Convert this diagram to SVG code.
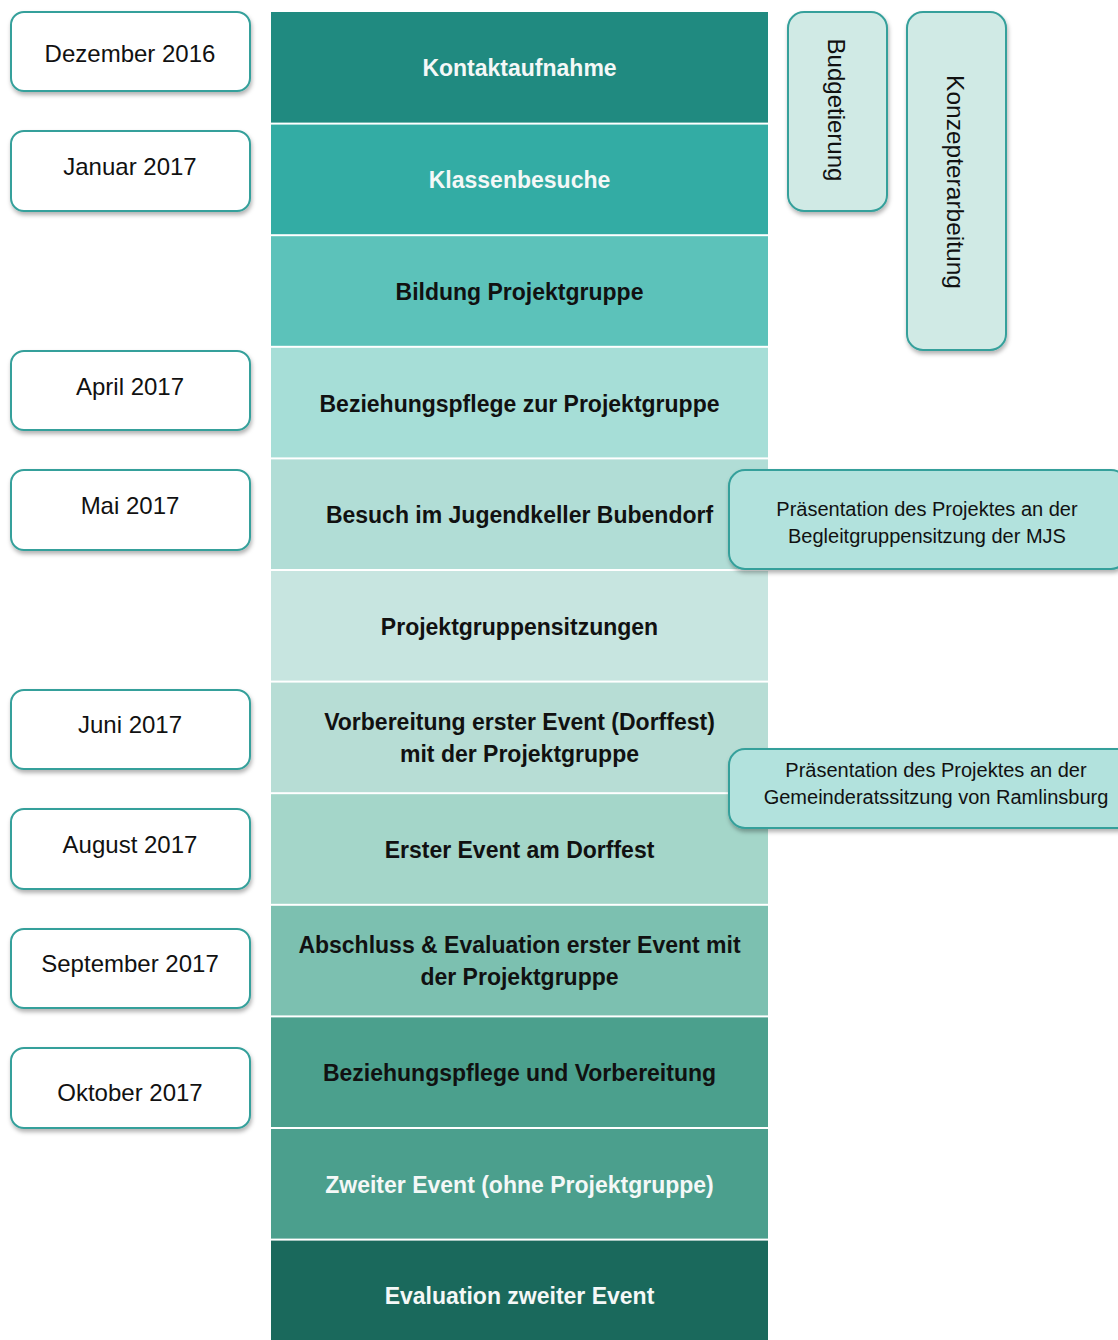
<svg xmlns="http://www.w3.org/2000/svg" width="1118" height="1340" viewBox="0 0 1118 1340">
<defs>
<filter id="sh" x="-10%" y="-10%" width="130%" height="140%">
<feDropShadow dx="1" dy="3" stdDeviation="2" flood-color="#000" flood-opacity="0.3"/>
</filter>
<style>
.date rect{fill:#fff;stroke:#35a09b;stroke-width:2;filter:url(#sh)}
.date text{font-family:"Liberation Sans",Arial,sans-serif;font-size:24px;fill:#111;text-anchor:middle;dominant-baseline:central}
.band text{font-family:"Liberation Sans",Arial,sans-serif;font-size:23px;font-weight:bold;text-anchor:middle;dominant-baseline:central;fill:#111}
.band text.w{fill:#f4f8f7}
.side rect{stroke:#35a09b;stroke-width:2;filter:url(#sh)}
.side text{font-family:"Liberation Sans",Arial,sans-serif;fill:#111;text-anchor:middle;dominant-baseline:central}
</style>
</defs>
<rect width="1118" height="1340" fill="#fff"/>

<g id="bands">
<g id="b1" class="band"><rect x="271" y="12" width="497" height="110.6" fill="#208a80"/><text class="w" x="519.5" y="68">Kontaktaufnahme</text></g>
<g id="b2" class="band"><rect x="271" y="124.6" width="497" height="109.6" fill="#33aca4"/><text class="w" x="519.5" y="180">Klassenbesuche</text></g>
<g id="b3" class="band"><rect x="271" y="236.2" width="497" height="109.6" fill="#5cc2ba"/><text x="519.5" y="292">Bildung Projektgruppe</text></g>
<g id="b4" class="band"><rect x="271" y="347.8" width="497" height="109.6" fill="#a6ded7"/><text x="519.5" y="404">Beziehungspflege zur Projektgruppe</text></g>
<g id="b5" class="band"><rect x="271" y="459.4" width="497" height="109.6" fill="#b1ddd6"/><text x="519.5" y="515">Besuch im Jugendkeller Bubendorf</text></g>
<g id="b6" class="band"><rect x="271" y="571" width="497" height="109.6" fill="#c7e5e0"/><text x="519.5" y="627">Projektgruppensitzungen</text></g>
<g id="b7" class="band"><rect x="271" y="682.6" width="497" height="109.6" fill="#b7ddd5"/><text x="519.5" y="722">Vorbereitung erster Event (Dorffest)</text><text x="519.5" y="754">mit der Projektgruppe</text></g>
<g id="b8" class="band"><rect x="271" y="794.2" width="497" height="109.6" fill="#a4d6c9"/><text x="519.5" y="850">Erster Event am Dorffest</text></g>
<g id="b9" class="band"><rect x="271" y="905.8" width="497" height="109.6" fill="#7cc0b0"/><text x="519.5" y="945">Abschluss &amp; Evaluation erster Event mit</text><text x="519.5" y="977">der Projektgruppe</text></g>
<g id="b10" class="band"><rect x="271" y="1017.4" width="497" height="109.6" fill="#4ba08d"/><text x="519.5" y="1073">Beziehungspflege und Vorbereitung</text></g>
<g id="b11" class="band"><rect x="271" y="1129" width="497" height="109.6" fill="#4b9f8d"/><text class="w" x="519.5" y="1185">Zweiter Event (ohne Projektgruppe)</text></g>
<g id="b12" class="band"><rect x="271" y="1240.6" width="497" height="110" fill="#1a695c"/><text class="w" x="519.5" y="1296">Evaluation zweiter Event</text></g>
</g>

<g id="dates">
<g id="d1" class="date"><rect x="11" y="12" width="239" height="79" rx="13"/><text x="130" y="53">Dezember 2016</text></g>
<g id="d2" class="date"><rect x="11" y="131" width="239" height="80" rx="13"/><text x="130" y="166">Januar 2017</text></g>
<g id="d3" class="date"><rect x="11" y="351" width="239" height="79" rx="13"/><text x="130" y="386">April 2017</text></g>
<g id="d4" class="date"><rect x="11" y="470" width="239" height="80" rx="13"/><text x="130" y="505">Mai 2017</text></g>
<g id="d5" class="date"><rect x="11" y="690" width="239" height="79" rx="13"/><text x="130" y="724">Juni 2017</text></g>
<g id="d6" class="date"><rect x="11" y="809" width="239" height="80" rx="13"/><text x="130" y="844">August 2017</text></g>
<g id="d7" class="date"><rect x="11" y="929" width="239" height="79" rx="13"/><text x="130" y="963">September 2017</text></g>
<g id="d8" class="date"><rect x="11" y="1048" width="239" height="80" rx="13"/><text x="130" y="1092">Oktober 2017</text></g>
</g>

<g id="budget" class="side"><rect x="788" y="12" width="99" height="199" rx="16" fill="#d0eae5"/><text font-size="24" transform="translate(836,110) rotate(90)">Budgetierung</text></g>
<g id="konzept" class="side"><rect x="907" y="12" width="99" height="338" rx="16" fill="#d0eae5"/><text font-size="24.5" transform="translate(955,182) rotate(90)">Konzepterarbeitung</text></g>

<g id="praes1" class="side"><rect x="729" y="470" width="398" height="99" rx="16" fill="#b2e2dd"/><text font-size="20" x="927" y="509">Präsentation des Projektes an der</text><text font-size="20" x="927" y="536">Begleitgruppensitzung der MJS</text></g>
<g id="praes2" class="side"><rect x="729" y="749" width="420" height="79" rx="16" fill="#b2e2dd"/><text font-size="20" x="936" y="770">Präsentation des Projektes an der</text><text font-size="20" x="936" y="797">Gemeinderatssitzung von Ramlinsburg</text></g>

<g id="connectors"></g>
</svg>
